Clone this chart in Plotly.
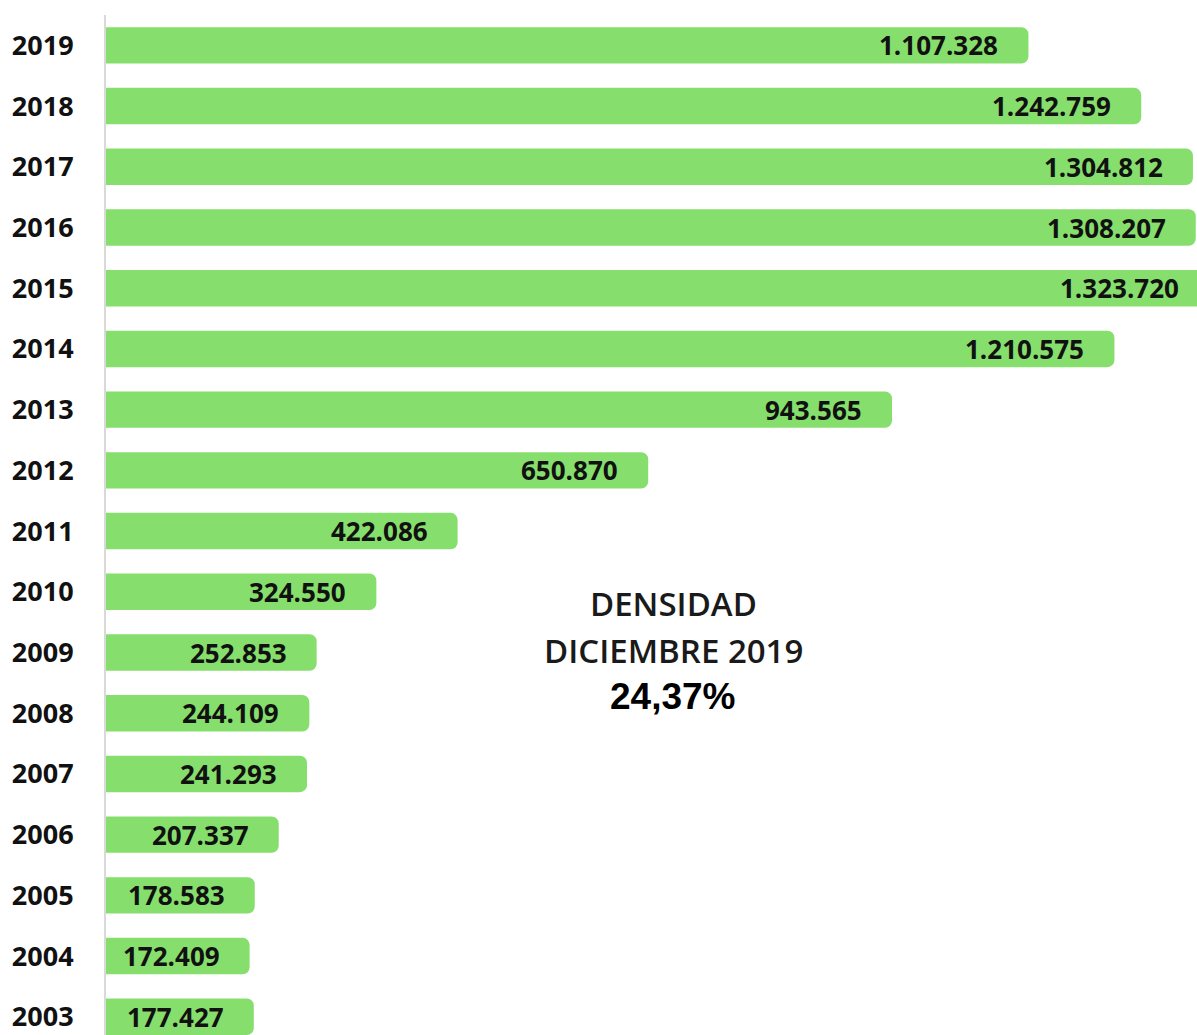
import plotly.graph_objects as go

years = [2019, 2018, 2017, 2016, 2015, 2014, 2013, 2012, 2011, 2010,
         2009, 2008, 2007, 2006, 2005, 2004, 2003]
values = [1107328, 1242759, 1304812, 1308207, 1323720, 1210575, 943565,
          650870, 422086, 324550, 252853, 244109, 241293, 207337,
          178583, 172409, 177427]
year_labels = [str(y) for y in years]
value_labels = [f"{v:,}".replace(",", ".") for v in values]
annotation_lines = ["DENSIDAD", "DICIEMBRE 2019", "24,37%"]

X_MAX = 1337300          # plot extends a little past the visible window (cropped like the source)
NOTE_X = 680700          # horizontal centre of the density note, in axis units

fig = go.Figure()
fig.add_trace(go.Bar(
    x=values, y=years, orientation="h",
    width=0.6,
    marker=dict(color="#86DF6C", line=dict(width=0)),
    hoverinfo="skip",
))

value_annotations = [
    dict(x=v, y=y, xref="x", yref="y", text=t, showarrow=False,
         xanchor="right", yanchor="middle", xshift=-28,
         font=dict(family="Open Sans", size=26, color="#111111", weight="bold"))
    for v, y, t in zip(values, years, value_labels)
]

note_font = dict(family="Open Sans", size=33, color="#1a1a1a", weight=600)
note_annotations = [
    dict(xref="x", yref="paper", x=NOTE_X, y=0.4235, text=annotation_lines[0],
         showarrow=False, xanchor="center", yanchor="middle", font=note_font),
    dict(xref="x", yref="paper", x=NOTE_X, y=0.3765, text=annotation_lines[1],
         showarrow=False, xanchor="center", yanchor="middle", font=note_font),
    dict(xref="x", yref="paper", x=NOTE_X, y=0.3314, text=annotation_lines[2],
         showarrow=False, xanchor="center", yanchor="middle",
         font=dict(family="Liberation Sans", size=37, color="#000000", weight="bold")),
]

fig.update_layout(
    width=1220, height=1035,
    margin=dict(l=106, r=0, t=15, b=0),
    paper_bgcolor="white", plot_bgcolor="white",
    barcornerradius=7,
    showlegend=False,
    xaxis=dict(range=[0, X_MAX], visible=False, fixedrange=True),
    yaxis=dict(
        range=[2002.7, 2019.5],
        tickvals=years, ticktext=year_labels,
        tickfont=dict(family="Open Sans", size=27, color="#111111", weight="bold"),
        showgrid=False, zeroline=False,
        showline=True, linecolor="#d9d9d9", linewidth=2,
        ticks="", ticklabelstandoff=25,
        fixedrange=True,
    ),
    annotations=value_annotations + note_annotations,
)

fig.write_html(
    "out.html",
    config={"displayModeBar": False},
    post_script="document.body.style.margin='0';document.body.style.overflow='hidden';",
)
